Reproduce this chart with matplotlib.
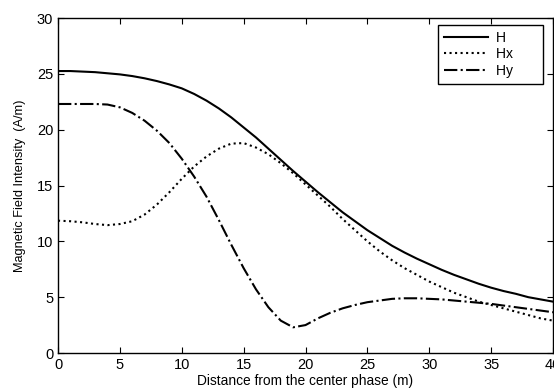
import matplotlib.pyplot as plt

plt.rcParams['font.family'] = ['Liberation Sans', 'DejaVu Sans']

# distance from the center phase (m)
dist = [0, 1, 2, 3, 4, 5, 6, 7, 8, 9, 10, 11, 12, 13, 14, 15, 16, 17, 18, 19, 20,
        21, 22, 23, 24, 25, 26, 27, 28, 29, 30, 31, 32, 33, 34, 35, 36, 37, 38, 39, 40]

H = [25.25, 25.25, 25.2, 25.15, 25.05, 24.95, 24.8, 24.6, 24.35, 24.05, 23.7,
     23.2, 22.6, 21.9, 21.1, 20.2, 19.3, 18.3, 17.3, 16.3, 15.35,
     14.4, 13.5, 12.6, 11.8, 11.0, 10.3, 9.6, 9.0, 8.45, 7.95,
     7.45, 7.0, 6.6, 6.2, 5.85, 5.55, 5.3, 5.0, 4.8, 4.6]

Hx = [11.85, 11.8, 11.7, 11.55, 11.45, 11.55, 11.8, 12.4, 13.3, 14.4, 15.6,
      16.7, 17.6, 18.3, 18.75, 18.8, 18.4, 17.8, 17.0, 16.1, 15.1,
      14.1, 13.1, 12.0, 11.0, 10.0, 9.1, 8.3, 7.6, 7.0, 6.4,
      5.9, 5.4, 5.0, 4.6, 4.3, 4.0, 3.7, 3.4, 3.1, 2.9]

Hy = [22.3, 22.3, 22.3, 22.3, 22.25, 22.0, 21.5, 20.8, 19.9, 18.8, 17.4,
      15.8, 14.0, 11.9, 9.7, 7.6, 5.7, 4.1, 2.9, 2.3, 2.5,
      3.1, 3.6, 4.0, 4.3, 4.55, 4.7, 4.85, 4.9, 4.9, 4.85,
      4.8, 4.7, 4.6, 4.5, 4.4, 4.25, 4.1, 3.95, 3.8, 3.65]

fig = plt.figure(figsize=(5.54, 3.88), dpi=100)
ax = fig.add_axes([0.1047, 0.0902, 0.8935, 0.8634])

ax.plot(dist, H, color="black", linestyle="-", linewidth=1.5, label="H")
ax.plot(dist, Hx, color="black", linestyle=":", linewidth=1.5, label="Hx")
ax.plot(dist, Hy, color="black", linestyle="-.", linewidth=1.5, label="Hy")

ax.set_xlim(0, 40)
ax.set_ylim(0, 30)
ax.set_xticks(range(0, 41, 5))
ax.set_yticks(range(0, 31, 5))
ax.tick_params(direction="in", top=True, right=True, labelsize=10.5, length=4)
for s in ax.spines.values():
    s.set_linewidth(1.0)

ax.set_xlabel("Distance from the center phase (m)", fontsize=9.9, labelpad=1.2)
ax.set_ylabel("Magnetic Field Intensity  (A/m)", fontsize=9.2, labelpad=8)

# MATLAB style legend: extra room on the right side of the box
leg = ax.legend(["H        ", "Hx      ", "Hy      "], loc="upper right",
                bbox_to_anchor=(0.980, 0.9356), bbox_transform=fig.transFigure,
                fontsize=10, fancybox=False, framealpha=1, edgecolor="black",
                borderaxespad=0, handlelength=3.2, handletextpad=0.6,
                labelspacing=0.2, borderpad=0.4)
leg.get_frame().set_linewidth(1.0)

fig.savefig("out.png", dpi=100)
